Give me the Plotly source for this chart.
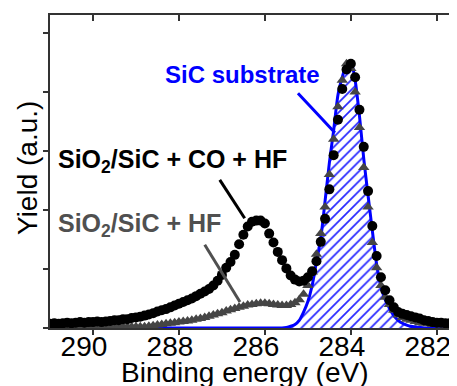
import plotly.graph_objects as go

# Binding energy grid (eV)
energy = [291.0, 290.9, 290.8, 290.7, 290.6, 290.5, 290.4, 290.3, 290.2, 290.1,
          290.0, 289.9, 289.8, 289.7, 289.6, 289.5, 289.4, 289.3, 289.2, 289.1,
          289.0, 288.9, 288.8, 288.7, 288.6, 288.5, 288.4, 288.3, 288.2, 288.1,
          288.0, 287.9, 287.8, 287.7, 287.6, 287.5, 287.4, 287.3, 287.2, 287.1,
          287.0, 286.9, 286.8, 286.7, 286.6, 286.5, 286.4, 286.3, 286.2, 286.1,
          286.0, 285.9, 285.8, 285.7, 285.6, 285.5, 285.4, 285.3, 285.2, 285.1,
          285.0, 284.9, 284.8, 284.7, 284.6, 284.5, 284.4, 284.3, 284.2, 284.1,
          284.0, 283.9, 283.8, 283.7, 283.6, 283.5, 283.4, 283.3, 283.2, 283.1,
          283.0, 282.9, 282.8, 282.7, 282.6, 282.5, 282.4, 282.3, 282.2, 282.1,
          282.0, 281.9, 281.8, 281.7, 281.6, 281.5]

# SiO2/SiC + CO + HF (black circles)
co_hf = [0.07, 0.08, 0.07, 0.08, 0.09, 0.08, 0.09, 0.10, 0.09, 0.10,
         0.10, 0.11, 0.10, 0.11, 0.12, 0.13, 0.13, 0.15, 0.15, 0.17,
         0.18, 0.19, 0.21, 0.23, 0.25, 0.28, 0.30, 0.32, 0.35, 0.38,
         0.41, 0.44, 0.47, 0.50, 0.54, 0.58, 0.62, 0.66, 0.72, 0.80,
         0.90, 1.02, 1.12, 1.24, 1.42, 1.58, 1.72, 1.80, 1.82, 1.82,
         1.77, 1.60, 1.45, 1.29, 1.15, 1.01, 0.89, 0.82, 0.79, 0.80,
         0.86, 0.96, 1.13, 1.46, 1.85, 2.35, 2.93, 3.53, 4.05, 4.38,
         4.48, 4.25, 3.70, 3.07, 2.32, 1.73, 1.22, 0.86, 0.64, 0.47,
         0.35, 0.27, 0.24, 0.22, 0.20, 0.18, 0.16, 0.13, 0.12, 0.10,
         0.09, 0.09, 0.08, 0.08, 0.07, 0.07]

# SiO2/SiC + HF (grey triangles)
hf = [0.02, 0.02, 0.03, 0.02, 0.02, 0.03, 0.02, 0.02, 0.03, 0.02,
      0.02, 0.02, 0.03, 0.02, 0.02, 0.02, 0.02, 0.02, 0.02, 0.02,
      0.02, 0.02, 0.02, 0.03, 0.04, 0.05, 0.06, 0.07, 0.08, 0.09,
      0.10, 0.11, 0.12, 0.13, 0.15, 0.16, 0.18, 0.20, 0.22, 0.24,
      0.26, 0.29, 0.31, 0.33, 0.35, 0.37, 0.39, 0.40, 0.41, 0.42,
      0.42, 0.41, 0.40, 0.39, 0.38, 0.38, 0.40, 0.43, 0.48, 0.57,
      0.72, 0.95, 1.25, 1.60, 2.05, 2.60, 3.20, 3.75, 4.20, 4.48,
      4.40, 4.00, 3.40, 2.72, 2.05, 1.45, 1.02, 0.72, 0.52, 0.40,
      0.30, 0.22, 0.18, 0.15, 0.13, 0.11, 0.09, 0.08, 0.07, 0.06,
      0.06, 0.05, 0.05, 0.04, 0.04, 0.04]

# SiC substrate component (blue fit)
sic = [0.0, 0.0, 0.0, 0.0, 0.0, 0.0, 0.0, 0.0, 0.0, 0.0,
       0.0, 0.0, 0.0, 0.0, 0.0, 0.0, 0.0, 0.0, 0.0, 0.0,
       0.0, 0.0, 0.0, 0.0, 0.0, 0.0, 0.0, 0.0, 0.0, 0.0,
       0.0, 0.0, 0.0, 0.0, 0.0, 0.0, 0.0, 0.0, 0.0, 0.0,
       0.0, 0.0, 0.0, 0.0, 0.0, 0.0, 0.0, 0.0, 0.0, 0.0,
       0.0, 0.0, 0.0, 0.0, 0.0, 0.01, 0.03, 0.06, 0.13, 0.27,
       0.45, 0.72, 1.12, 1.52, 2.15, 2.80, 3.35, 3.95, 4.25, 4.47,
       4.52, 4.20, 3.60, 2.87, 2.25, 1.65, 1.08, 0.70, 0.48, 0.33,
       0.21, 0.13, 0.08, 0.05, 0.03, 0.02, 0.01, 0.0, 0.0, 0.0,
       0.0, 0.0, 0.0, 0.0, 0.0, 0.0]

x_ticks = [290, 288, 286, 284, 282]
x_tick_text = ["290", "288", "286", "284", "282"]
y_ticks = [0, 1, 2, 3, 4, 5]

X_RANGE = [291.0, 281.53]
Y_RANGE = [0, 5.305]
FONT = "Arial, Liberation Sans, sans-serif"
AX = "#333333"

fig = go.Figure()

fig.add_trace(go.Scatter(
    x=energy, y=sic, mode="lines", line=dict(color="#0000ff", width=3, shape="spline", smoothing=0.6),
    fill="tozeroy", fillcolor="rgba(0,0,0,0)",
    fillpattern=dict(shape="/", fgcolor="#2a2aff", bgcolor="rgba(255,255,255,0)", size=7, solidity=0.25),
    showlegend=False, hoverinfo="skip"))

fig.add_trace(go.Scatter(
    x=energy, y=hf, mode="markers",
    marker=dict(symbol="triangle-up", size=10, color="#454545", line=dict(width=0)),
    showlegend=False))

fig.add_trace(go.Scatter(
    x=energy, y=co_hf, mode="markers",
    marker=dict(symbol="circle", size=10, color="#000000", line=dict(width=0)),
    showlegend=False))

# invisible trace to anchor the mirrored axes
fig.add_trace(go.Scatter(x=energy[:1], y=co_hf[:1], xaxis="x2", yaxis="y2", mode="markers",
                         marker=dict(opacity=0), showlegend=False, hoverinfo="skip"))

common = dict(showgrid=False, zeroline=False, showline=True, linecolor=AX, linewidth=1.5,
              tickcolor=AX, tickwidth=1.5, automargin=False)

fig.update_layout(
    template="none",
    width=449, height=378,
    margin=dict(l=42, r=0, t=7, b=58, autoexpand=False),
    paper_bgcolor="white", plot_bgcolor="white",
    font=dict(family=FONT, color="black"),
    xaxis=dict(range=X_RANGE, tickvals=x_ticks, ticktext=x_tick_text, ticks="outside", ticklen=5,
               tickfont=dict(size=28, family=FONT, color="black"), ticklabelshift=9,
               ticklabelstandoff=-12, **common),
    xaxis2=dict(range=X_RANGE, overlaying="x", side="top", tickvals=x_ticks, ticks="inside", ticklen=6,
                showticklabels=False, anchor="y", **common),
    yaxis=dict(range=Y_RANGE, tickvals=y_ticks, ticks="outside", ticklen=5, showticklabels=False, **common),
    yaxis2=dict(range=Y_RANGE, overlaying="y", side="right", tickvals=y_ticks, ticks="inside", ticklen=5,
                showticklabels=False, anchor="x", showgrid=False, zeroline=False, showline=False,
                tickcolor=AX, tickwidth=1.5, automargin=False),
)

# leader lines
fig.add_shape(type="line", xref="x", yref="y", x0=285.23, y0=3.98, x1=284.37, y1=3.31,
              line=dict(color="#0000ff", width=3))
fig.add_shape(type="line", xref="x", yref="y", x0=287.05, y0=2.51, x1=286.47, y1=1.86,
              line=dict(color="#000000", width=3))
fig.add_shape(type="line", xref="x", yref="y", x0=287.40, y0=1.41, x1=286.58, y1=0.44,
              line=dict(color="#505050", width=3))

fig.add_annotation(x=286.51, y=4.29, xref="x", yref="y", text="<b>SiC substrate</b>", showarrow=False,
                   font=dict(size=24, color="#0000ff", family=FONT), xanchor="center", yanchor="middle")
fig.add_annotation(x=288.14, y=2.83, xref="x", yref="y", text="<b>SiO<sub>2</sub>/SiC + CO + HF</b>",
                   showarrow=False, font=dict(size=25, color="black", family=FONT),
                   xanchor="center", yanchor="middle")
fig.add_annotation(x=288.91, y=1.75, xref="x", yref="y", text="<b>SiO<sub>2</sub>/SiC + HF</b>",
                   showarrow=False, font=dict(size=25, color="#505050", family=FONT),
                   xanchor="center", yanchor="middle")

# axis titles (positions relative to the plot area)
fig.add_annotation(x=(244 - 50) / 407, y=(328 - 372) / 313, xref="paper", yref="paper",
                   text="Binding energy (eV)", showarrow=False, font=dict(size=28, family=FONT, color="black"),
                   xanchor="center", yanchor="middle")
fig.add_annotation(x=(27 - 50) / 407, y=(328 - 168) / 313, xref="paper", yref="paper",
                   text="Yield (a.u.)", showarrow=False, textangle=-90,
                   font=dict(size=28, family=FONT, color="black"), xanchor="center", yanchor="middle")

fig.write_html("out.html")
